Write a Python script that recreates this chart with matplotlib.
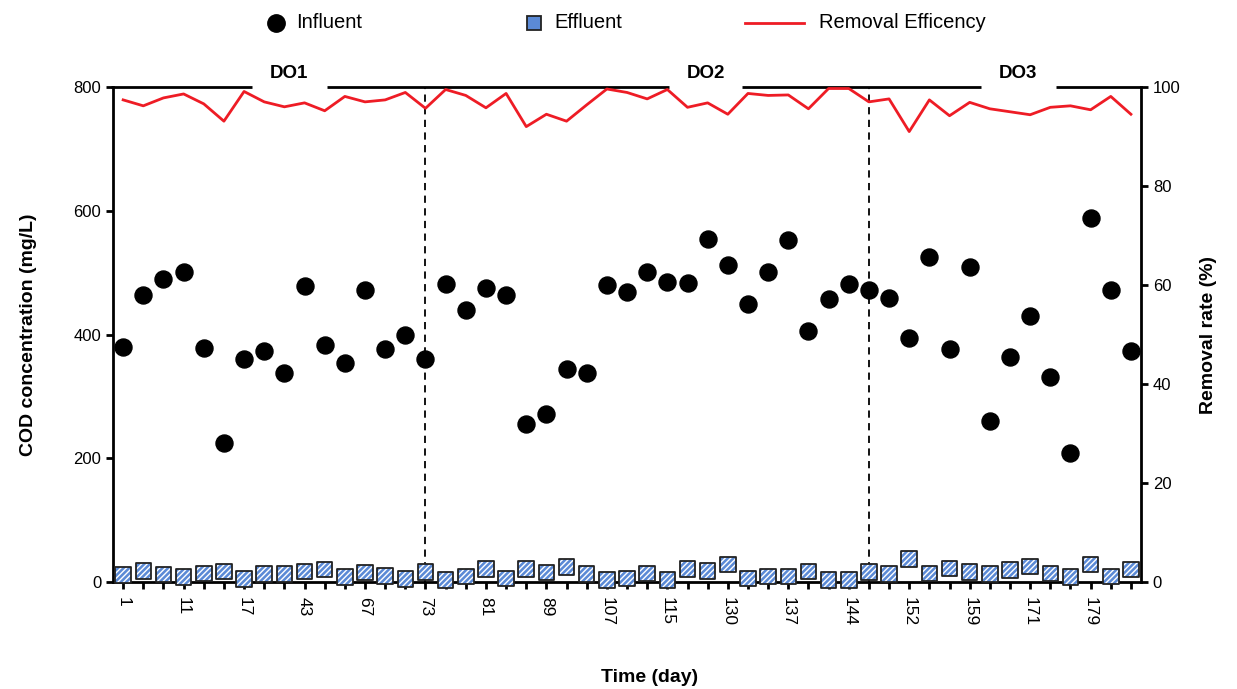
import numpy as np
import matplotlib.pyplot as plt
from matplotlib.lines import Line2D

plt.rcParams['font.family'] = ['Liberation Sans', 'DejaVu Sans']

# day labels shown on the x axis (every third sample)
day_labels = [1, 11, 17, 43, 67, 73, 81, 89, 107, 115, 130, 137, 144, 152, 159, 171, 179]

influent = [380, 464, 490, 501, 378, 225, 360, 373, 338, 478,
            383, 354, 472, 376, 399, 360, 481, 439, 475, 464,
            255, 271, 344, 338, 480, 468, 501, 485, 483, 554,
            512, 449, 501, 552, 405, 457, 481, 472, 459, 394,
            525, 376, 509, 260, 363, 430, 331, 208, 588, 472, 373]

effluent = [11, 18, 12, 8, 14, 17, 5, 13, 13, 17,
            20, 8, 15, 10, 5, 16, 3, 9, 21, 6,
            21, 15, 24, 13, 3, 6, 14, 3, 21, 18,
            28, 6, 9, 9, 17, 3, 3, 16, 13, 37,
            14, 22, 16, 13, 19, 25, 14, 8, 28, 9, 20]

removal = [97.4, 96.2, 97.8, 98.6, 96.6, 93.1, 99.1, 97.0, 96.0, 96.8,
           95.2, 98.1, 97.0, 97.4, 98.9, 95.7, 99.5, 98.3, 95.8, 98.7,
           92.0, 94.5, 93.1, 96.4, 99.6, 98.9, 97.6, 99.5, 95.9, 96.8,
           94.5, 98.7, 98.3, 98.4, 95.6, 99.7, 99.7, 97.0, 97.6, 91.0,
           97.4, 94.2, 96.9, 95.6, 95.0, 94.4, 95.9, 96.2, 95.4, 98.1, 94.5]

phase_names = ["DO1", "DO2", "DO3"]
phase_breaks = [15, 37]  # sample index where a new DO phase starts

x = np.arange(len(influent))
blue = "#5b8ad6"
red = "#ee1c25"
W, H = 1237, 689

fig = plt.figure(figsize=(12.37, 6.89), dpi=100)
ax = fig.add_axes([0.0914, 0.1553, 0.8310, 0.7184])
ax2 = ax.twinx()

# influent / effluent
ax.scatter(x, influent, s=150, color="black", zorder=4, clip_on=False)
ax.scatter(x, effluent, s=125, marker="s", facecolor=blue, edgecolor="white",
           hatch="//////", linewidth=0, zorder=6, clip_on=False)
ax.scatter(x, effluent, s=125, marker="s", facecolor="none", edgecolor="#222222",
           linewidth=1.3, zorder=7, clip_on=False)

for b in phase_breaks:
    ax.plot([b, b], [0, 800], color="black", lw=1.3, ls=(0, (4, 3)), zorder=3)

ax2.plot(x, removal, color=red, lw=2, zorder=3)

ax.set_xlim(-0.5, len(x) - 0.5)
ax.set_ylim(0, 800)
ax2.set_ylim(0, 100)

ax.set_yticks([0, 200, 400, 600, 800])
ax2.set_yticks([0, 20, 40, 60, 80, 100])
ax.set_xticks(x)
labels = [""] * len(x)
for i, d in enumerate(day_labels):
    labels[i * 3] = str(d)
ax.set_xticklabels(labels, rotation=-90)

for a in (ax, ax2):
    a.spines["top"].set_visible(False)
    for s in ("left", "right", "bottom"):
        a.spines[s].set_linewidth(2)
    a.tick_params(axis="both", direction="out", length=5, width=2, labelsize=12)
ax.spines["right"].set_visible(False)
ax2.spines["left"].set_visible(False)
ax2.spines["bottom"].set_visible(False)
ax.tick_params(axis="x", pad=6, labelsize=12.5)

# top line broken by the phase names
segs = [(-0.6, 6.39), (10.10, 27.10), (30.72, 42.56), (46.28, 50.5)]
for x0, x1 in segs:
    ax.plot([x0, x1], [800, 800], color="black", lw=2, clip_on=False, zorder=8,
            solid_capstyle="butt")
for name, xc in zip(phase_names, [8.25, 28.9, 44.4]):
    ax.text(xc, 822, name, ha="center", va="center", fontsize=13.5,
            fontweight="bold")

ax.set_ylabel("COD concentration (mg/L)", fontsize=14, fontweight="bold", labelpad=26)
ax2.set_ylabel("Removal rate (%)", fontsize=14, fontweight="bold", labelpad=14)
fig.text(0.525, 0.004, "Time (day)", ha="center", va="bottom", fontsize=14,
         fontweight="bold")

# legend row along the top
ly = 1 - 23 / H
fig.add_artist(Line2D([276 / W], [ly], ls="none", marker="o", markersize=12.5,
                      color="black"))
fig.text(296 / W, ly, "Influent", ha="left", va="center", fontsize=14.5)
fig.add_artist(Line2D([534 / W], [ly], ls="none", marker="s", markersize=10.5,
                      markerfacecolor=blue, markeredgecolor="#222222",
                      markeredgewidth=1.3))
fig.text(554 / W, ly, "Effluent", ha="left", va="center", fontsize=14.5)
fig.add_artist(Line2D([745 / W, 804 / W], [ly, ly], color=red, lw=2))
fig.text(819 / W, ly, "Removal Efficency", ha="left", va="center", fontsize=14.5)

fig.savefig("out.png", dpi=100)
